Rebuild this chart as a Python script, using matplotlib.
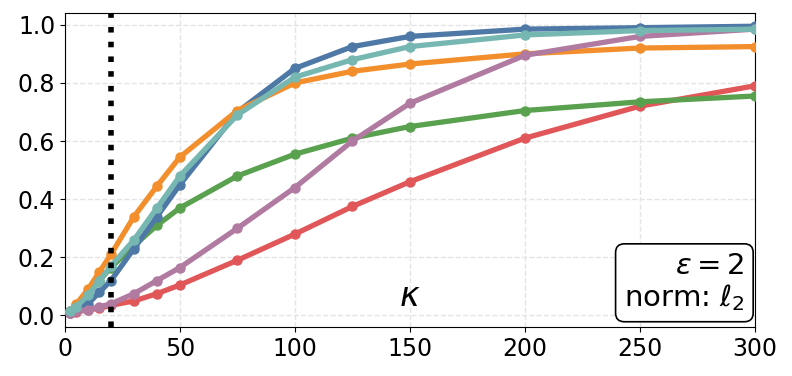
import matplotlib
matplotlib.use("Agg")
import matplotlib.pyplot as plt

# kappa values on the x axis
kappa = [2, 5, 10, 15, 20, 30, 40, 50, 75, 100, 125, 150, 200, 250, 300]

# one curve per colour
blue = [0.01, 0.02, 0.04, 0.08, 0.12, 0.23, 0.34, 0.45, 0.70, 0.85, 0.925, 0.96, 0.985, 0.99, 0.995]
orange = [0.015, 0.04, 0.09, 0.15, 0.21, 0.34, 0.445, 0.545, 0.705, 0.80, 0.84, 0.865, 0.90, 0.92, 0.925]
green = [0.015, 0.035, 0.08, 0.12, 0.165, 0.24, 0.31, 0.37, 0.48, 0.555, 0.61, 0.65, 0.705, 0.735, 0.755]
red = [0.01, 0.012, 0.02, 0.025, 0.035, 0.05, 0.075, 0.105, 0.19, 0.28, 0.375, 0.46, 0.61, 0.72, 0.79]
purple = [0.01, 0.015, 0.02, 0.03, 0.04, 0.075, 0.12, 0.165, 0.30, 0.44, 0.60, 0.73, 0.895, 0.96, 0.985]
teal = [0.015, 0.03, 0.07, 0.12, 0.17, 0.26, 0.37, 0.48, 0.69, 0.82, 0.88, 0.925, 0.965, 0.98, 0.985]

kappa_mark = 20

series = [
    (red, "#e15759"),
    (green, "#59a14f"),
    (blue, "#4e79a7"),
    (orange, "#f28e2b"),
    (purple, "#b07aa1"),
    (teal, "#76b7b2"),
]

fig, ax = plt.subplots(figsize=(7.92, 3.76), dpi=100)
fig.subplots_adjust(left=0.082, right=0.953, top=0.965, bottom=0.13)

for vals, col in series:
    ax.plot(kappa, vals, color=col, lw=3.8, marker="o", ms=6.5, zorder=3)

ax.axvline(kappa_mark, color="black", ls=":", lw=4, zorder=4)

ax.set_xlim(0, 300)
ax.set_ylim(-0.04, 1.04)
ax.set_xticks([0, 50, 100, 150, 200, 250, 300])
ax.set_yticks([0.0, 0.2, 0.4, 0.6, 0.8, 1.0])
ax.tick_params(labelsize=17)
ax.grid(True, ls="--", color="#e4e4e4", lw=1)
ax.set_axisbelow(True)

ax.text(150, 0.01, r"$\kappa$", fontsize=24, ha="center", va="bottom")

ax.text(0.985, 0.045, "$\\varepsilon = 2$\nnorm: $\\ell_2$", transform=ax.transAxes,
        fontsize=21, ha="right", va="bottom", multialignment="right", zorder=5,
        linespacing=1.1,
        bbox=dict(boxstyle="round,pad=0.3", fc="white", ec="black", lw=1.2))

fig.savefig("out.png", dpi=100)
